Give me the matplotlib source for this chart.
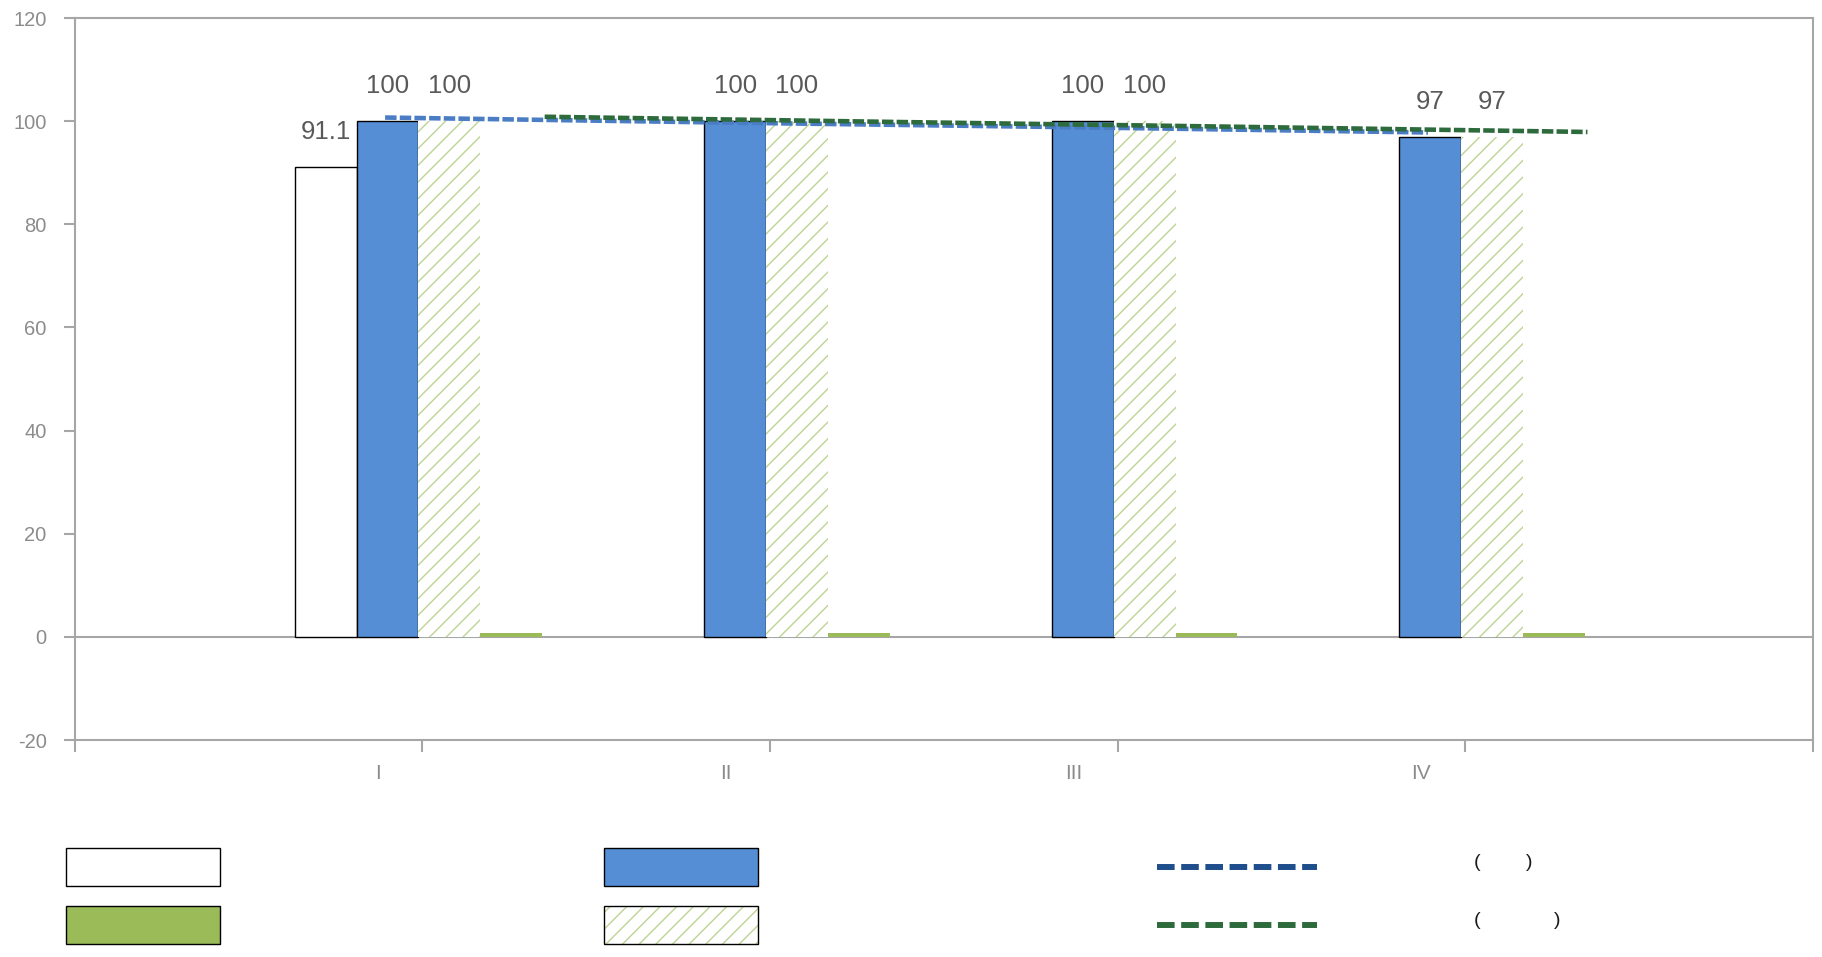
import matplotlib
matplotlib.use("Agg")
import matplotlib.pyplot as plt
import matplotlib.transforms as mtransforms
from matplotlib.patches import Patch
from matplotlib.lines import Line2D
from matplotlib.legend_handler import HandlerTuple
import numpy as np

plt.rcParams['font.family'] = ['Liberation Sans', 'DejaVu Sans']
plt.rcParams['hatch.linewidth'] = 1.0

categories = ['I', 'II', 'III', 'IV']
white_vals = [91.1, np.nan, np.nan, np.nan]
blue_vals = [100, 100, 100, 97]
hatch_vals = [100, 100, 100, 97]
green_vals = [0.8, 0.8, 0.8, 0.8]
blue_line = [100.7, 99.7, 98.8, 97.8]
green_line = [100.85, 99.85, 98.9, 97.9]
yticks = [-20, 0, 20, 40, 60, 80, 100, 120]

GRAY = '#a6a6a6'
TICK_TXT = '#8c8c8c'
LABEL_TXT = '#595959'
BLUE = '#558ed5'
GREEN = '#9bbb59'
HATCH = '#bdd494'
BLUE_LINE = '#4a7dc4'
BLUE_LINE_LEG = '#1f4e8c'
GREEN_LINE = '#2e6b3c'

W, H = 1822, 957
fig = plt.figure(figsize=(W / 100, H / 100), dpi=100)
ax = fig.add_axes([74.7 / W, 1 - 740 / H, (1812.7 - 74.7) / W, (740 - 18) / H])

x = np.arange(1, len(categories) + 1) - 0.011
w = 0.178

b_white = ax.bar(x - 1.5 * w, white_vals, w, color='white', edgecolor='black', linewidth=1.0, zorder=2)
b_blue = ax.bar(x - 0.5 * w, blue_vals, w, color=BLUE, edgecolor='black', linewidth=1.0, zorder=2)
b_hatch = ax.bar(x + 0.5 * w, hatch_vals, w, color='white', edgecolor=HATCH, linewidth=0,
                 hatch='//', zorder=2)
b_green = ax.bar(x + 1.5 * w, green_vals, w, color=GREEN, linewidth=0, zorder=2)

ax.plot(x - 0.096, blue_line, color=BLUE_LINE, linewidth=3.3, linestyle=(0, (2.5, 0.7)),
        dash_capstyle='butt', zorder=4)
ax.plot(x + 0.363, green_line, color=GREEN_LINE, linewidth=3.3, linestyle=(0, (2.5, 0.7)),
        dash_capstyle='butt', zorder=5)

# data labels
for bars, vals in [(b_white, white_vals), (b_blue, blue_vals), (b_hatch, hatch_vals)]:
    for r, v in zip(bars, vals):
        if np.isnan(v):
            continue
        ax.annotate(f'{v:g}', (r.get_x() + r.get_width() / 2, v), xytext=(0, 25),
                    textcoords='offset points', ha='center', va='center',
                    fontsize=18.5, color=LABEL_TXT, zorder=6)

ax.axhline(0, color=GRAY, linewidth=1.5, zorder=1)

ax.set_xlim(0, len(categories) + 1)
ax.set_ylim(-20, 120)
ax.set_yticks(yticks)
ax.set_yticklabels([str(t) for t in yticks])
ax.set_xticks(np.arange(0, len(categories) + 2))
ax.set_xticklabels([''] + categories + [''])

for s in ax.spines.values():
    s.set_color(GRAY)
    s.set_linewidth(1.5)

ax.tick_params(axis='y', length=7.7, width=1.5, color=GRAY, labelcolor=TICK_TXT,
               labelsize=14.5, pad=12.5)
ax.tick_params(axis='x', length=8.6, width=1.5, color=GRAY, labelcolor=TICK_TXT,
               labelsize=15, pad=9)

offset = mtransforms.ScaledTranslation(-44 / 100, 0, fig.dpi_scale_trans)
for lab in ax.get_xticklabels():
    lab.set_transform(lab.get_transform() + offset)

# legend, three columns
fs = 14
fs_px = fs * 100 / 72
leg_kw = dict(loc='upper left', frameon=False, fontsize=fs, borderpad=0, borderaxespad=0,
              labelspacing=1.03, handleheight=2.63, handletextpad=0.5)

h1 = [Patch(facecolor='white', edgecolor='black', linewidth=1.0),
      Patch(facecolor=GREEN, edgecolor='black', linewidth=1.0)]
fig.legend(h1, ['', ''], bbox_to_anchor=(66 / W, 1 - 848 / H),
           handlelength=154 / fs_px, **leg_kw)

h2 = [Patch(facecolor=BLUE, edgecolor='black', linewidth=1.0),
      (Patch(facecolor='white', edgecolor=HATCH, linewidth=0, hatch='//'),
       Patch(facecolor='none', edgecolor='black', linewidth=1.0))]
fig.legend(h2, ['', ''], bbox_to_anchor=(604 / W, 1 - 848 / H),
           handlelength=154 / fs_px,
           handler_map={tuple: HandlerTuple(ndivide=1, pad=0)}, **leg_kw)

h3 = [Line2D([], [], color=BLUE_LINE_LEG, linewidth=4.3, linestyle=(0, (2.95, 1.1)),
             dash_capstyle='butt'),
      Line2D([], [], color=GREEN_LINE, linewidth=4.3, linestyle=(0, (2.95, 1.1)),
             dash_capstyle='butt')]
fig.legend(h3, ['', ''], bbox_to_anchor=(1157 / W, 1 - 854.9 / H),
           handlelength=160 / fs_px, **leg_kw)

# bracket parts of the line labels (the rest of the label text is blank)
for yc, xr in [(862.5, 1532), (920.2, 1560)]:
    fig.text(1474 / W, 1 - yc / H, '(', ha='left', va='center', fontsize=fs, color='#1a1a1a')
    fig.text(xr / W, 1 - yc / H, ')', ha='right', va='center', fontsize=fs, color='#1a1a1a')

fig.savefig('out.png', dpi=100)
